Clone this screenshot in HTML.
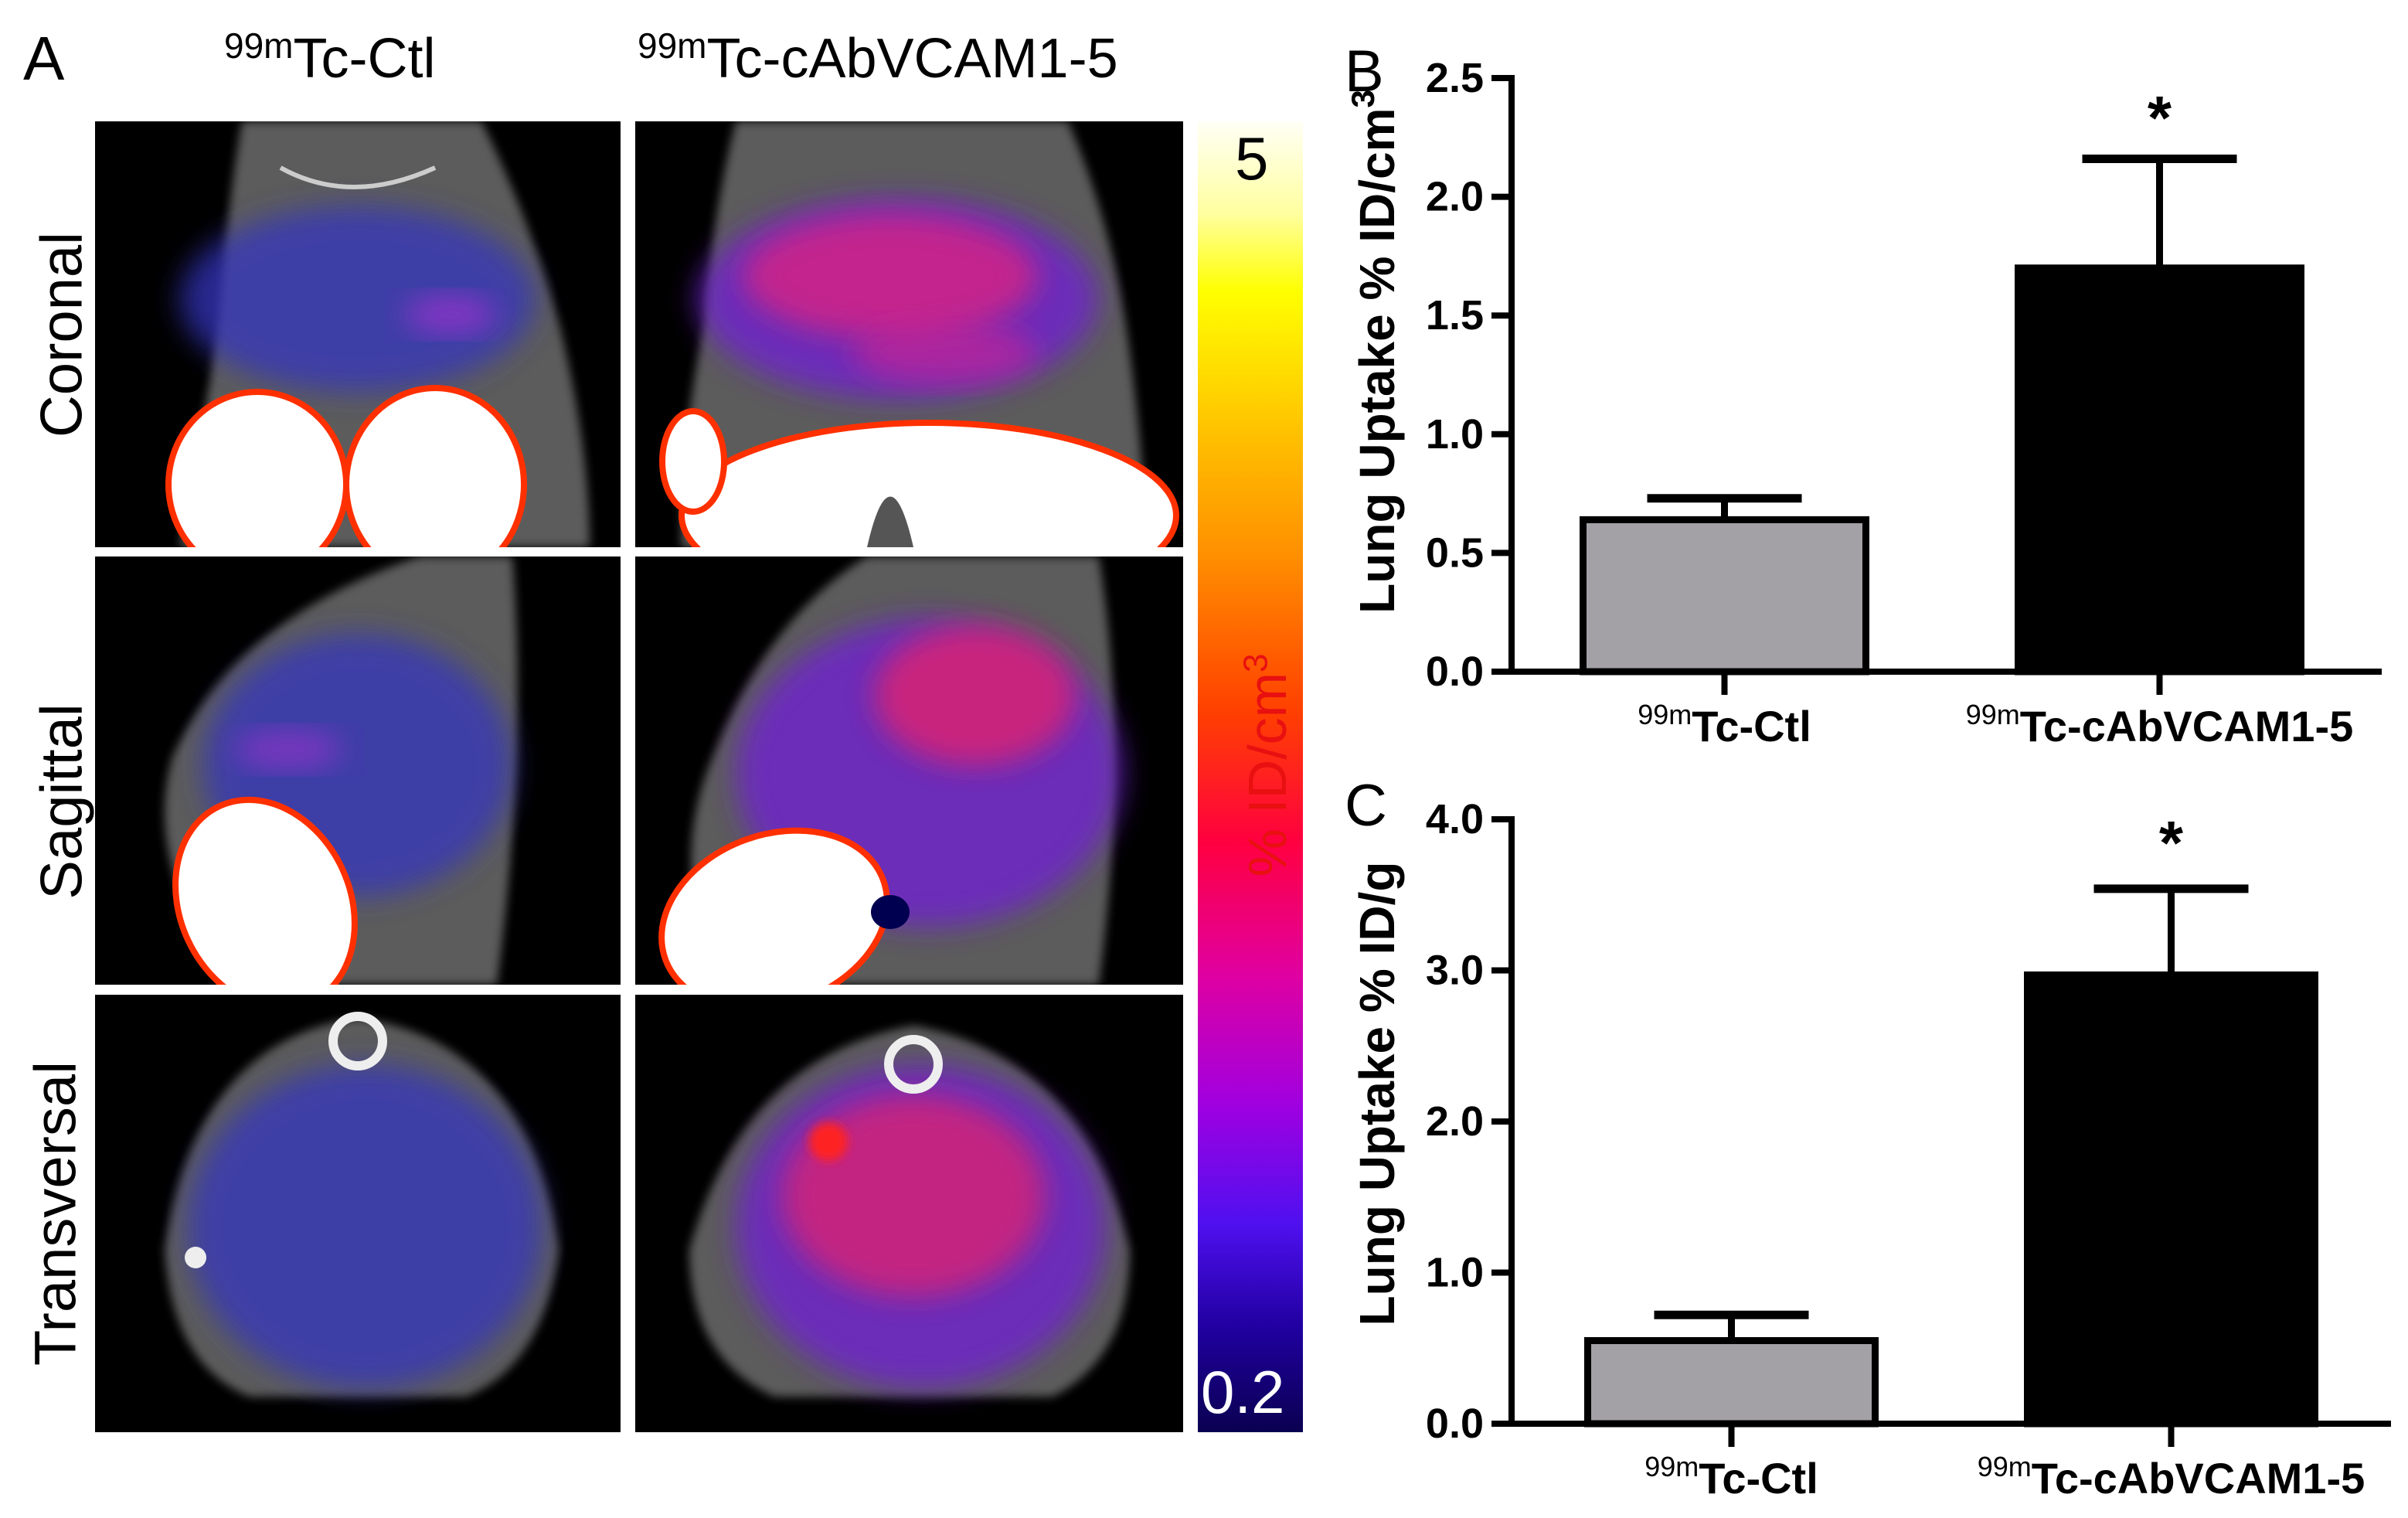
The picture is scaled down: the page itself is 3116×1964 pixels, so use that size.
<!DOCTYPE html>
<html><head><meta charset="utf-8">
<style>
html,body{margin:0;padding:0;background:#fff;}
body{width:3116px;height:1964px;position:relative;overflow:hidden;font-family:"Liberation Sans",sans-serif;}
.abs{position:absolute;}
.panel{position:absolute;background:#000;overflow:hidden;}
.t{font-family:"Liberation Sans",sans-serif;color:#000;}
</style></head>
<body>
<div class="abs t" style="left:30px;top:30px;font-size:80px;">A</div>
<div class="abs t" style="left:290px;top:32px;font-size:72px;"><sup style="font-size:46px">99m</sup>Tc-Ctl</div>
<div class="abs t" style="left:825px;top:32px;font-size:72px;"><sup style="font-size:46px">99m</sup>Tc-cAbVCAM1-5</div>
<div class="abs t" style="left:80px;top:433px;font-size:76px;transform:translate(-50%,-50%) rotate(-90deg);white-space:nowrap;">Coronal</div>
<div class="abs t" style="left:80px;top:1037px;font-size:76px;transform:translate(-50%,-50%) rotate(-90deg);white-space:nowrap;">Sagittal</div>
<div class="abs t" style="left:72px;top:1570px;font-size:76px;transform:translate(-50%,-50%) rotate(-90deg);white-space:nowrap;">Transversal</div>

<svg width="0" height="0" style="position:absolute">
<defs>
<filter id="bl" x="-20%" y="-20%" width="140%" height="140%"><feGaussianBlur stdDeviation="18"/></filter>
<filter id="bl2" x="-20%" y="-20%" width="140%" height="140%"><feGaussianBlur stdDeviation="6"/></filter>
</defs></svg>

<!-- Coronal Ctl -->
<div class="panel" style="left:123px;top:157px;width:680px;height:551px;">
<svg width="680" height="551">
<path d="M190 0 L500 0 Q560 120 600 260 Q640 420 640 551 L110 551 Q140 400 160 260 Q170 120 190 0Z" fill="#5c5c5c" filter="url(#bl2)"/>
<ellipse cx="340" cy="230" rx="230" ry="120" fill="#3535c0" opacity="0.75" filter="url(#bl)"/>
<ellipse cx="460" cy="250" rx="60" ry="25" fill="#a030d0" opacity="0.7" filter="url(#bl)"/>
<path d="M240 60 Q330 110 440 60" stroke="#ccc" stroke-width="6" fill="none"/>
<ellipse cx="210" cy="470" rx="115" ry="120" fill="#fff" stroke="#ff3000" stroke-width="8"/>
<ellipse cx="440" cy="470" rx="115" ry="125" fill="#fff" stroke="#ff3000" stroke-width="8"/>
</svg></div>
<!-- Coronal VCAM -->
<div class="panel" style="left:822px;top:157px;width:709px;height:551px;">
<svg width="709" height="551">
<path d="M130 0 L560 0 Q620 140 640 300 Q660 450 660 551 L60 551 Q60 400 90 260 Q100 120 130 0Z" fill="#5c5c5c" filter="url(#bl2)"/>
<ellipse cx="340" cy="230" rx="260" ry="130" fill="#7020d0" opacity="0.8" filter="url(#bl)"/>
<ellipse cx="330" cy="200" rx="190" ry="80" fill="#e02080" opacity="0.75" filter="url(#bl)"/>
<ellipse cx="400" cy="300" rx="120" ry="40" fill="#d02090" opacity="0.6" filter="url(#bl)"/>
<ellipse cx="380" cy="510" rx="320" ry="120" fill="#fff" stroke="#ff3000" stroke-width="8"/>
<ellipse cx="75" cy="440" rx="40" ry="65" fill="#fff" stroke="#ff3000" stroke-width="8"/>
<path d="M300 551 Q330 420 360 551Z" fill="#555"/>
</svg></div>
<!-- Sagittal Ctl -->
<div class="panel" style="left:123px;top:720px;width:680px;height:554px;">
<svg width="680" height="554">
<path d="M420 0 L540 0 Q560 250 520 554 L180 554 Q60 400 100 260 Q180 80 420 0Z" fill="#5c5c5c" filter="url(#bl2)"/>
<ellipse cx="340" cy="270" rx="200" ry="170" fill="#3535c0" opacity="0.75" filter="url(#bl)"/>
<ellipse cx="250" cy="250" rx="70" ry="25" fill="#a030d0" opacity="0.6" filter="url(#bl)"/>
<ellipse cx="220" cy="450" rx="110" ry="140" transform="rotate(-25 220 450)" fill="#fff" stroke="#ff3000" stroke-width="8"/>
</svg></div>
<!-- Sagittal VCAM -->
<div class="panel" style="left:822px;top:720px;width:709px;height:554px;">
<svg width="709" height="554">
<path d="M300 0 L600 0 Q640 250 600 554 L110 554 Q40 400 100 260 Q170 80 300 0Z" fill="#5c5c5c" filter="url(#bl2)"/>
<ellipse cx="380" cy="280" rx="250" ry="200" fill="#7020d0" opacity="0.8" filter="url(#bl)"/>
<ellipse cx="440" cy="180" rx="130" ry="90" fill="#e02070" opacity="0.8" filter="url(#bl)"/>
<ellipse cx="180" cy="470" rx="150" ry="110" transform="rotate(-20 180 470)" fill="#fff" stroke="#ff3000" stroke-width="8"/>
<ellipse cx="330" cy="460" rx="25" ry="22" fill="#000050"/>
</svg></div>
<!-- Transversal Ctl -->
<div class="panel" style="left:123px;top:1287px;width:680px;height:566px;">
<svg width="680" height="566">
<path d="M340 30 Q560 60 600 330 Q580 480 480 520 L200 520 Q100 480 90 330 Q130 60 340 30Z" fill="#5c5c5c" filter="url(#bl2)"/>
<ellipse cx="350" cy="300" rx="230" ry="210" fill="#3535c0" opacity="0.75" filter="url(#bl)"/>
<circle cx="340" cy="60" r="32" fill="none" stroke="#eee" stroke-width="12"/>
<circle cx="130" cy="340" r="14" fill="#eee"/>
</svg></div>
<!-- Transversal VCAM -->
<div class="panel" style="left:822px;top:1287px;width:709px;height:566px;">
<svg width="709" height="566">
<path d="M360 40 Q580 80 640 330 Q640 470 540 520 L180 520 Q70 470 70 330 Q140 80 360 40Z" fill="#5c5c5c" filter="url(#bl2)"/>
<ellipse cx="370" cy="300" rx="240" ry="210" fill="#7020d0" opacity="0.8" filter="url(#bl)"/>
<ellipse cx="360" cy="260" rx="170" ry="130" fill="#e02070" opacity="0.75" filter="url(#bl)"/>
<circle cx="250" cy="190" r="25" fill="#ff2020" filter="url(#bl2)"/>
<circle cx="360" cy="90" r="32" fill="none" stroke="#eee" stroke-width="12"/>
</svg></div>

<!-- colorbar -->
<div class="abs" style="left:1550px;top:157px;width:136px;height:1696px;background:linear-gradient(to bottom,#fffff6 0%,#ffffa0 7%,#ffff00 13%,#ffc000 24%,#ff9000 33%,#ff4000 45%,#ff0040 55%,#e000a0 65%,#a000e0 75%,#5010f0 84%,#2000a0 92%,#0a0050 100%);"></div>
<div class="abs t" style="left:1598px;top:160px;font-size:78px;">5</div>
<div class="abs t" style="left:1554px;top:1756px;font-size:78px;color:#fff;">0.2</div>
<div class="abs t" style="left:1640px;top:990px;font-size:70px;color:#e81010;transform:translate(-50%,-50%) rotate(-90deg);white-space:nowrap;">% ID/cm<sup style="font-size:44px">3</sup></div>

<svg id="charts" class="abs" style="left:0;top:0" width="3116" height="1964"></svg>

<script>
const categories = ["Tc-Ctl", "Tc-cAbVCAM1-5"];
const valuesB = [0.64, 1.70];
const errorsB = [0.09, 0.46];
const ticksB = ["0.0", "0.5", "1.0", "1.5", "2.0", "2.5"];
const valuesC = [0.55, 2.97];
const errorsC = [0.17, 0.57];
const ticksC = ["0.0", "1.0", "2.0", "3.0", "4.0"];

const NS = "http://www.w3.org/2000/svg";
const svg = document.getElementById("charts");
function mk(tag, attrs, parent) {
  const e = document.createElementNS(NS, tag);
  for (const k in attrs) e.setAttribute(k, attrs[k]);
  (parent || svg).appendChild(e);
  return e;
}
const FONT = '"Liberation Sans Narrow","Liberation Sans",sans-serif';

function drawChart(o) {
  const g = mk("g", {});
  
  
  const maxV = parseFloat(o.ticks[o.ticks.length - 1]);
  const y = v => o.y0 - (v / maxV) * (o.y0 - o.yTop);
  const xCenter = i => o.x0 + (o.xEnd - o.x0) * (0.25 + 0.5 * i) + o.shift;
  const bw = o.bw;
  o.values.forEach((v, i) => {
    const cx = xCenter(i);
    const yt = y(v), ye = y(v + o.errors[i]);
    const ln = mk("line", {x1: cx, x2: cx, y1: yt, y2: ye, stroke: "#000", "stroke-width": 9}, g);
    
    
    const cap = mk("line", {x1: cx - 100, x2: cx + 100, y1: ye, y2: ye, stroke: "#000", "stroke-width": 11}, g);
    
    
    const r = mk("rect", {x: cx - bw / 2, y: yt, width: bw, height: o.y0 - yt,
      fill: i === 0 ? "#a3a1a6" : "#000", stroke: "#000", "stroke-width": 9}, g);
    
    
    mk("line", {x1: cx, x2: cx, y1: o.y0, y2: o.y0 + 30, stroke: "#000", "stroke-width": 8}, g);
    const t = mk("text", {x: cx, y: o.y0 + 90, "text-anchor": "middle", "font-family": FONT,
      "font-weight": "bold", "font-size": 56}, g);
    
    
    const s = mk("tspan", {"font-size": 36, "font-weight": "normal", dy: -22}, t);
    s.textContent = "99m";
    const m = mk("tspan", {dy: 22}, t);
    m.textContent = categories[i];
  });
  const star = mk("text", {x: xCenter(1), y: o.starY, "text-anchor": "middle", "font-family": FONT,
    "font-weight": "bold", "font-size": 80}, g);
  star.textContent = "*";
  
  
  const ya = mk("line", {x1: o.x0, x2: o.x0, y1: o.yTop - 4, y2: o.y0 + 4, stroke: "#000", "stroke-width": 8}, g);
  
  
  const xa = mk("line", {x1: o.x0 - 4, x2: o.xEnd, y1: o.y0, y2: o.y0, stroke: "#000", "stroke-width": 8}, g);
  
  
  o.ticks.forEach(tk => {
    const yy = y(parseFloat(tk));
    mk("line", {x1: o.x0 - 26, x2: o.x0, y1: yy, y2: yy, stroke: "#000", "stroke-width": 8}, g);
    const t = mk("text", {x: o.x0 - 36, y: yy + 18, "text-anchor": "end", "font-family": FONT,
      "font-weight": "bold", "font-size": 54}, g);
    t.textContent = tk;
    
    
  });
  const ty = mk("text", {x: 0, y: 0, "text-anchor": "middle", "font-family": '"Liberation Sans",sans-serif',
    "font-weight": "bold", "font-size": 64, transform: "translate(" + o.titleX + "," + o.titleY + ") rotate(-90)"}, g);
  
  
  const a = mk("tspan", {}, ty); a.textContent = o.title;
  if (o.sup) { const b = mk("tspan", {"font-size": 42, dy: -26}, ty); b.textContent = o.sup; }
  const L = mk("text", {x: o.letterX, y: o.letterY, "font-family": '"Liberation Sans",sans-serif', "font-size": 76}, g);
  L.textContent = o.letter;
  
  
}

drawChart({name: "chart-b", values: valuesB, errors: errorsB, ticks: ticksB,
  x0: 1956, xEnd: 3082, yTop: 101, y0: 869, bw: 366, shift: -6, starY: 180,
  title: "Lung Uptake % ID/cm", sup: "3", titleX: 1804, titleY: 455, letter: "B", letterX: 1740, letterY: 118});
drawChart({name: "chart-c", values: valuesC, errors: errorsC, ticks: ticksC,
  x0: 1956, xEnd: 3094, yTop: 1060, y0: 1842, bw: 372, shift: 0, starY: 1118,
  title: "Lung Uptake % ID/g", sup: "", titleX: 1804, titleY: 1415, letter: "C", letterX: 1740, letterY: 1068});
</script>
</body></html>
